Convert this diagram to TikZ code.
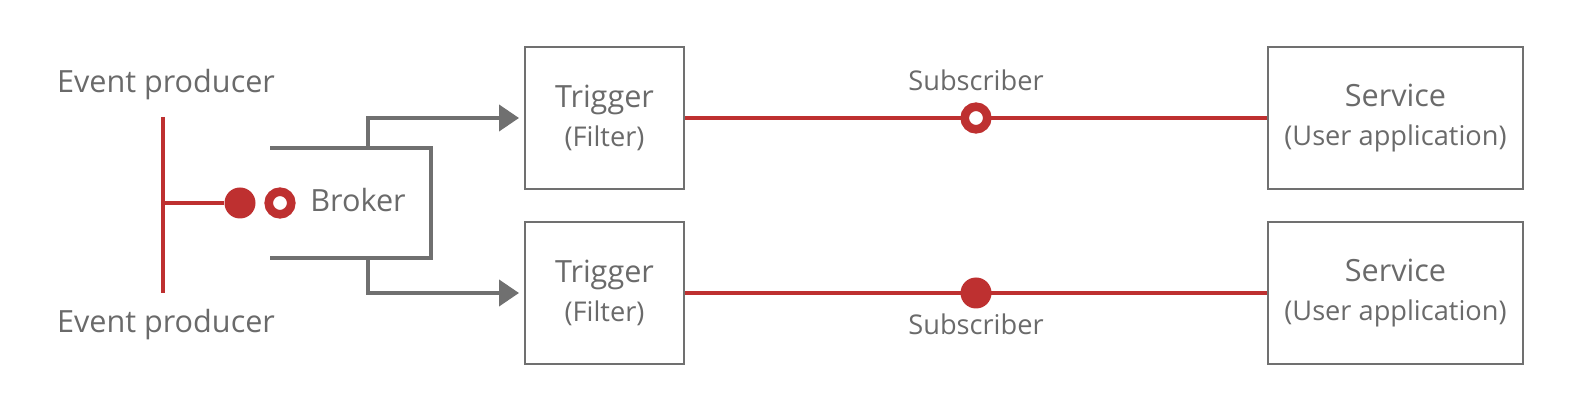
\documentclass[tikz,border=0pt]{standalone}
\usepackage{fontspec}
\setmainfont{Open Sans}
\usetikzlibrary{positioning,arrows.meta}

\definecolor{linered}{HTML}{BE3030}
\definecolor{linegray}{HTML}{707070}
\definecolor{textgray}{HTML}{6A6A6A}
\newcommand{\labelbig}{\fontsize{15.3}{19.5}\selectfont}
\newcommand{\labelsmall}{\fontsize{13.6}{19.5}\selectfont}

\tikzset{
  box/.style={draw=linegray,line width=1pt,minimum width=79.5pt,minimum height=71pt,
    inner sep=0pt,align=center,text=textgray,font=\labelbig},
  widebox/.style={box,minimum width=127.5pt},
  txt/.style={text=textgray,font=\labelbig,inner sep=0pt},
  subtxt/.style={text=textgray,font=\labelsmall,inner sep=0pt},
  dot/.style={circle,fill=linered,minimum size=15.5pt,inner sep=0pt},
  ring/.style={circle,draw=linered,fill=white,line width=4.3pt,minimum size=11.3pt,inner sep=0pt},
  redline/.style={draw=linered,line width=1.8pt},
  grayline/.style={draw=linegray,line width=2pt},
  feed/.style={grayline,-{Triangle[length=10pt,width=13pt]},shorten >=2.5pt}
}

\begin{document}
\begin{tikzpicture}[x=0.5pt,y=-0.5pt,node distance=87.5pt,on grid]
  \useasboundingbox (0,0) rectangle (1596,416);

  % triggers and services
  \node[box] (trig1) at (604.5,118) {Trigger\\{\labelsmall(Filter)}};
  \node[box] (trig2) [below=of trig1] {Trigger\\{\labelsmall(Filter)}};
  \node[widebox] (serv1) [right=395.5pt of trig1] {Service\\{\labelsmall(User application)}};
  \node[widebox] (serv2) [right=395.5pt of trig2] {Service\\{\labelsmall(User application)}};

  % producers and broker
  \node[txt,anchor=base] (prod1) at (166,93) {Event producer};
  \node[txt,anchor=base] (prod2) at (166,333) {Event producer};
  \coordinate (bustop) at (163,117);
  \coordinate (busbot) at (163,293);
  \node[dot] (pub) at (240,203) {};
  \node[ring] (sub) at (280,203) {};
  \node[txt,anchor=base west] (broker) at (310,212) {Broker};

  \draw[redline] (bustop) -- (busbot);
  \draw[redline] (bustop |- pub) -- (pub);

  % broker bracket
  \coordinate (brk1) at (270,148);
  \coordinate (brk2) at (270,258);
  \coordinate (up) at (368,148);
  \coordinate (down) at (368,258);
  \draw[grayline] (brk1) -- ++(161,0) |- (brk2);
  \draw[feed] (up) |- (trig1);
  \draw[feed] (down) |- (trig2);

  % subscriptions
  \draw[redline] (trig1) -- (serv1) node[ring,midway] (sub1) {};
  \draw[redline] (trig2) -- (serv2) node[dot,midway] (sub2) {};
  \node[subtxt,anchor=base] (subtxt1) at ([yshift=13.5pt]sub1) {Subscriber};
  \node[subtxt,anchor=base] (subtxt2) at ([yshift=-21pt]sub2) {Subscriber};
\end{tikzpicture}
\end{document}
